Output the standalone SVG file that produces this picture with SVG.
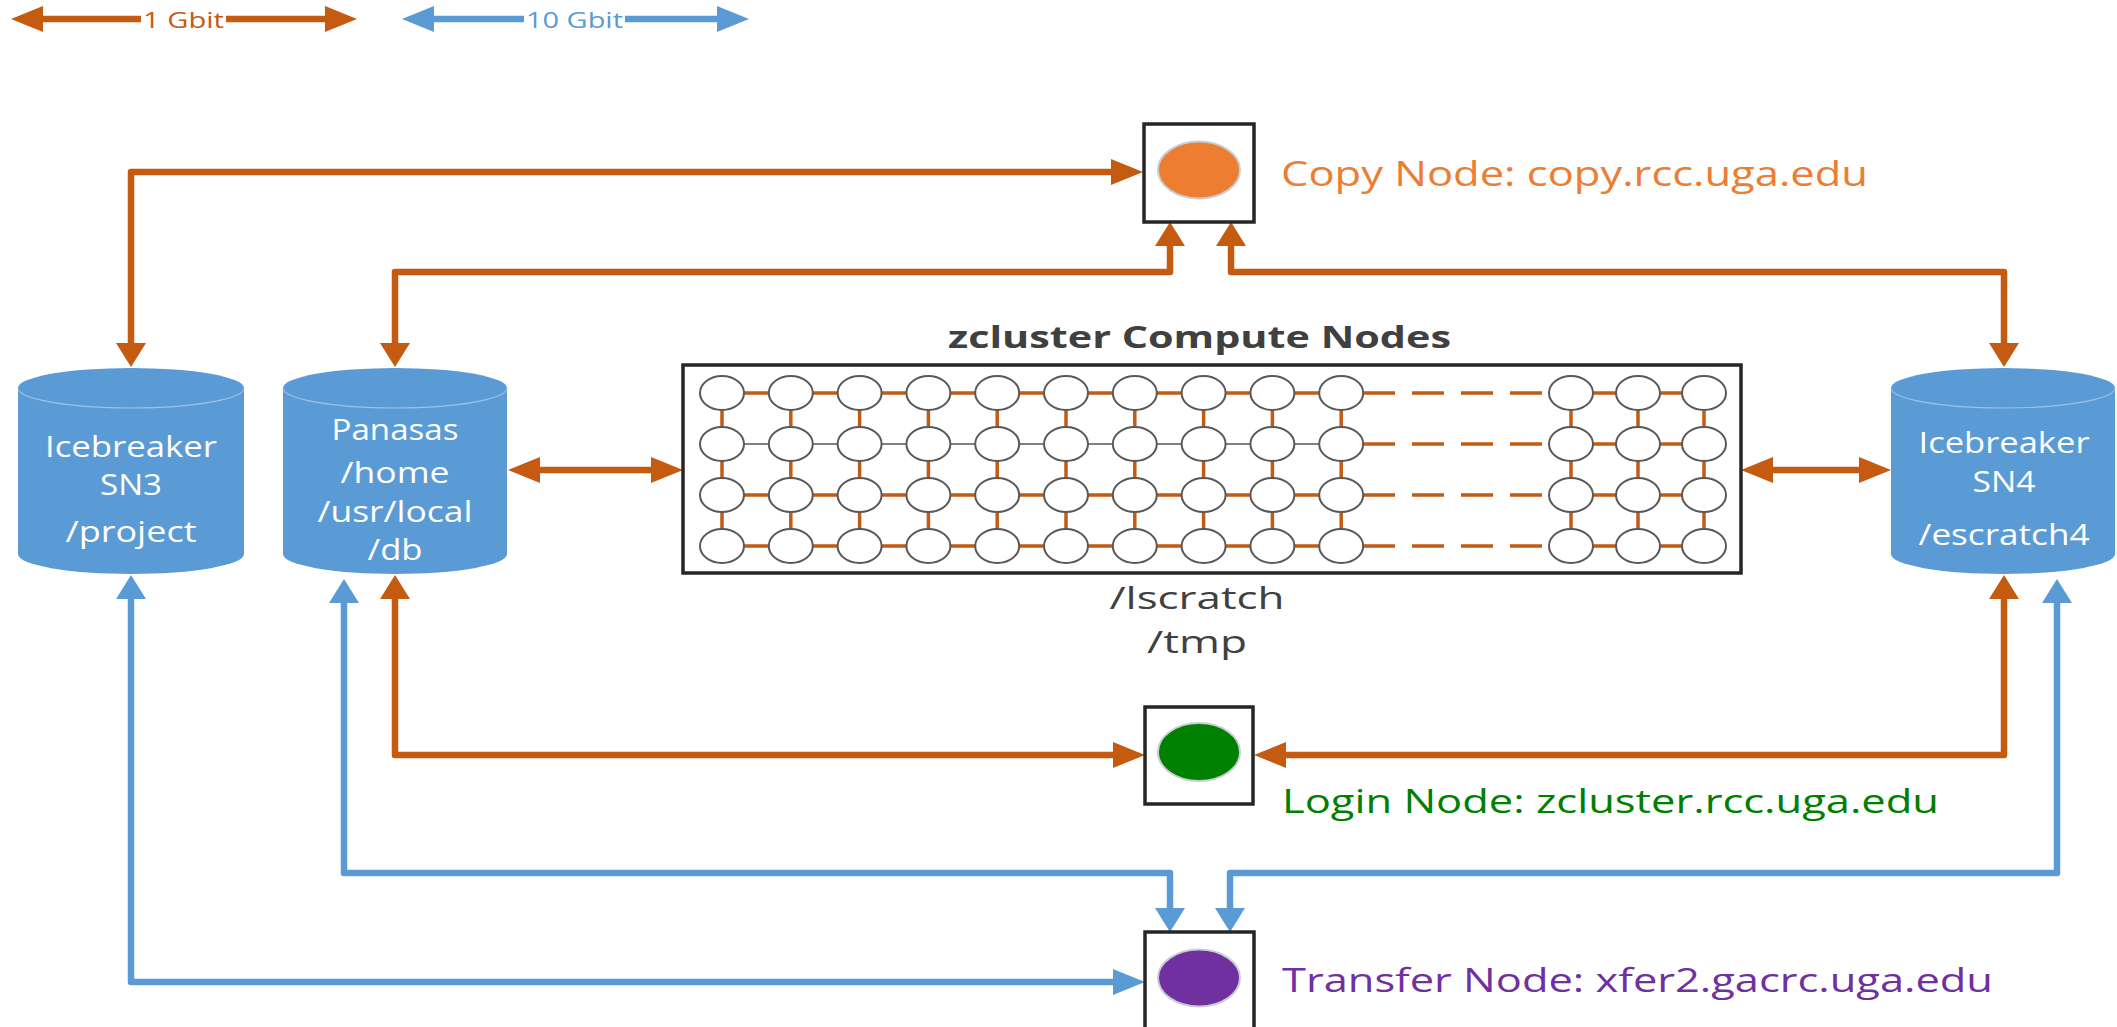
<svg xmlns="http://www.w3.org/2000/svg" xmlns:xlink="http://www.w3.org/1999/xlink" width="2117" height="1027" viewBox="0 0 2117 1027">
<style>
  text { font-family: "Open Sans", "Liberation Sans", sans-serif; }
  .cyl { fill: #5B9BD5; }
  .cyltop { fill: none; stroke: #9DC1E6; stroke-width: 1.2; }
  .cyltxt { fill: #FFFFFF; font-size: 30px; text-anchor: middle; }
  .box { fill: #FFFFFF; stroke: #262626; stroke-width: 3.5; }
  .o { fill: none; stroke: #C55A11; stroke-width: 6.5; stroke-linejoin: round; }
  .b { fill: none; stroke: #5B9BD5; stroke-width: 6.5; stroke-linejoin: round; }
  .mo { stroke: #C55A11; stroke-width: 3.5; fill: none; }
  .mg { stroke: #7F7F7F; stroke-width: 2; fill: none; }
  .node { fill: #FFFFFF; stroke: #595959; stroke-width: 2; }
  .dark { fill: #404040; }
</style>
<defs>
  <marker id="mho" markerUnits="userSpaceOnUse" markerWidth="32" markerHeight="26" refX="0" refY="13" orient="auto-start-reverse" overflow="visible"><path d="M0,0 L32,13 L0,26 z" fill="#C55A11"/></marker>
  <marker id="mvo" markerUnits="userSpaceOnUse" markerWidth="24" markerHeight="30" refX="0" refY="15" orient="auto-start-reverse" overflow="visible"><path d="M0,0 L24,15 L0,30 z" fill="#C55A11"/></marker>
  <marker id="mhb" markerUnits="userSpaceOnUse" markerWidth="32" markerHeight="26" refX="0" refY="13" orient="auto-start-reverse" overflow="visible"><path d="M0,0 L32,13 L0,26 z" fill="#5B9BD5"/></marker>
  <marker id="mvb" markerUnits="userSpaceOnUse" markerWidth="24" markerHeight="30" refX="0" refY="15" orient="auto-start-reverse" overflow="visible"><path d="M0,0 L24,15 L0,30 z" fill="#5B9BD5"/></marker>
  <ellipse id="c" cx="0" cy="0" rx="22" ry="17" class="node"/>
</defs>
<rect width="2117" height="1027" fill="#FFFFFF"/>

<g id="legend">
  <path class="o" d="M141,19 H43" marker-end="url(#mho)"/>
  <path class="o" d="M226,19 H325" marker-end="url(#mho)"/>
  <text x="143" y="28" font-size="22" fill="#C55A11" textLength="81" lengthAdjust="spacingAndGlyphs">1 Gbit</text>
  <path class="b" d="M524,19 H434" marker-end="url(#mhb)"/>
  <path class="b" d="M625,19 H717" marker-end="url(#mhb)"/>
  <text x="526" y="28" font-size="22" fill="#5B9BD5" textLength="97" lengthAdjust="spacingAndGlyphs">10 Gbit</text>
</g>

<g id="connectors">
  <path class="o" d="M131,343 V172 H1111" marker-start="url(#mvo)" marker-end="url(#mho)"/>
  <path class="o" d="M395,343 V272 H1170 V246" marker-start="url(#mvo)" marker-end="url(#mvo)"/>
  <path class="o" d="M2004,343 V272 H1231 V246" marker-start="url(#mvo)" marker-end="url(#mvo)"/>
  <path class="o" d="M540,470 H651" marker-start="url(#mho)" marker-end="url(#mho)"/>
  <path class="o" d="M1773,470 H1859" marker-start="url(#mho)" marker-end="url(#mho)"/>
  <path class="o" d="M395,599 V755 H1113" marker-start="url(#mvo)" marker-end="url(#mho)"/>
  <path class="o" d="M2004,599 V755 H1286" marker-start="url(#mvo)" marker-end="url(#mho)"/>
  <path class="b" d="M131,599 V982 H1113" marker-start="url(#mvb)" marker-end="url(#mhb)"/>
  <path class="b" d="M344,603 V873 H1170 V908" marker-start="url(#mvb)" marker-end="url(#mvb)"/>
  <path class="b" d="M2057,603 V873 H1230 V908" marker-start="url(#mvb)" marker-end="url(#mvb)"/>
</g>

<g id="sn3">
  <path class="cyl" d="M18,388 A113,20 0 0 1 244,388 V554 A113,20 0 0 1 18,554 Z"/>
  <path class="cyltop" d="M18,388 A113,20 0 0 0 244,388"/>
  <text class="cyltxt" x="131" y="457" textLength="172" lengthAdjust="spacingAndGlyphs">Icebreaker</text>
  <text class="cyltxt" x="131" y="495" textLength="62" lengthAdjust="spacingAndGlyphs">SN3</text>
  <text class="cyltxt" x="131" y="542" textLength="131" lengthAdjust="spacingAndGlyphs">/project</text>
</g>

<g id="panasas">
  <path class="cyl" d="M283,388 A112,20 0 0 1 507,388 V554 A112,20 0 0 1 283,554 Z"/>
  <path class="cyltop" d="M283,388 A112,20 0 0 0 507,388"/>
  <text class="cyltxt" x="395" y="440" textLength="127" lengthAdjust="spacingAndGlyphs">Panasas</text>
  <text class="cyltxt" x="395" y="483" textLength="109" lengthAdjust="spacingAndGlyphs">/home</text>
  <text class="cyltxt" x="395" y="522" textLength="155" lengthAdjust="spacingAndGlyphs">/usr/local</text>
  <text class="cyltxt" x="395" y="560" textLength="55" lengthAdjust="spacingAndGlyphs">/db</text>
</g>

<g id="sn4">
  <path class="cyl" d="M1891,388 A112,20 0 0 1 2115,388 V554 A112,20 0 0 1 1891,554 Z"/>
  <path class="cyltop" d="M1891,388 A112,20 0 0 0 2115,388"/>
  <text class="cyltxt" x="2004" y="453" textLength="171" lengthAdjust="spacingAndGlyphs">Icebreaker</text>
  <text class="cyltxt" x="2004" y="492" textLength="63" lengthAdjust="spacingAndGlyphs">SN4</text>
  <text class="cyltxt" x="2004" y="545" textLength="171" lengthAdjust="spacingAndGlyphs">/escratch4</text>
</g>

<g id="compute">
  <text class="dark" x="948" y="348" font-size="30" font-weight="bold" textLength="503" lengthAdjust="spacingAndGlyphs">zcluster Compute Nodes</text>
  <rect class="box" x="683" y="365" width="1058" height="208"/>
  <g id="mesh-links">
    <path class="mo" d="M722,393 H1342 M722,495 H1342 M722,546 H1342"/>
    <path class="mg" d="M722,444 H1342"/>
    <path class="mo" d="M1571,393 H1704 M1571,444 H1704 M1571,495 H1704 M1571,546 H1704"/>
    <path class="mo" stroke-dasharray="32 17" d="M1363,393 H1549 M1363,444 H1549 M1363,495 H1549 M1363,546 H1549"/>
    <path class="mo" d="M722,393 V546 M790.8,393 V546 M859.6,393 V546 M928.4,393 V546 M997.2,393 V546 M1066,393 V546 M1134.8,393 V546 M1203.6,393 V546 M1272.4,393 V546 M1341.2,393 V546 M1571,393 V546 M1638,393 V546 M1704,393 V546"/>
  </g>
  <g id="mesh-nodes">
    <use xlink:href="#c" x="722" y="393"/><use xlink:href="#c" x="790.8" y="393"/><use xlink:href="#c" x="859.6" y="393"/><use xlink:href="#c" x="928.4" y="393"/><use xlink:href="#c" x="997.2" y="393"/><use xlink:href="#c" x="1066" y="393"/><use xlink:href="#c" x="1134.8" y="393"/><use xlink:href="#c" x="1203.6" y="393"/><use xlink:href="#c" x="1272.4" y="393"/><use xlink:href="#c" x="1341.2" y="393"/><use xlink:href="#c" x="1571" y="393"/><use xlink:href="#c" x="1638" y="393"/><use xlink:href="#c" x="1704" y="393"/>
    <use xlink:href="#c" x="722" y="444"/><use xlink:href="#c" x="790.8" y="444"/><use xlink:href="#c" x="859.6" y="444"/><use xlink:href="#c" x="928.4" y="444"/><use xlink:href="#c" x="997.2" y="444"/><use xlink:href="#c" x="1066" y="444"/><use xlink:href="#c" x="1134.8" y="444"/><use xlink:href="#c" x="1203.6" y="444"/><use xlink:href="#c" x="1272.4" y="444"/><use xlink:href="#c" x="1341.2" y="444"/><use xlink:href="#c" x="1571" y="444"/><use xlink:href="#c" x="1638" y="444"/><use xlink:href="#c" x="1704" y="444"/>
    <use xlink:href="#c" x="722" y="495"/><use xlink:href="#c" x="790.8" y="495"/><use xlink:href="#c" x="859.6" y="495"/><use xlink:href="#c" x="928.4" y="495"/><use xlink:href="#c" x="997.2" y="495"/><use xlink:href="#c" x="1066" y="495"/><use xlink:href="#c" x="1134.8" y="495"/><use xlink:href="#c" x="1203.6" y="495"/><use xlink:href="#c" x="1272.4" y="495"/><use xlink:href="#c" x="1341.2" y="495"/><use xlink:href="#c" x="1571" y="495"/><use xlink:href="#c" x="1638" y="495"/><use xlink:href="#c" x="1704" y="495"/>
    <use xlink:href="#c" x="722" y="546"/><use xlink:href="#c" x="790.8" y="546"/><use xlink:href="#c" x="859.6" y="546"/><use xlink:href="#c" x="928.4" y="546"/><use xlink:href="#c" x="997.2" y="546"/><use xlink:href="#c" x="1066" y="546"/><use xlink:href="#c" x="1134.8" y="546"/><use xlink:href="#c" x="1203.6" y="546"/><use xlink:href="#c" x="1272.4" y="546"/><use xlink:href="#c" x="1341.2" y="546"/><use xlink:href="#c" x="1571" y="546"/><use xlink:href="#c" x="1638" y="546"/><use xlink:href="#c" x="1704" y="546"/>
  </g>
  <text class="dark" x="1197" y="609" font-size="31" text-anchor="middle" textLength="175" lengthAdjust="spacingAndGlyphs">/lscratch</text>
  <text class="dark" x="1197" y="653" font-size="31" text-anchor="middle" textLength="100" lengthAdjust="spacingAndGlyphs">/tmp</text>
</g>

<g id="copy-node">
  <rect class="box" x="1144" y="124" width="110" height="98"/>
  <ellipse cx="1199" cy="170" rx="41" ry="28.5" fill="#ED7D31" stroke="#C8CDD2" stroke-width="2"/>
  <text x="1281" y="186" font-size="35" fill="#ED7D31" textLength="587" lengthAdjust="spacingAndGlyphs">Copy Node: copy.rcc.uga.edu</text>
</g>

<g id="login-node">
  <rect class="box" x="1145" y="707" width="108" height="97"/>
  <ellipse cx="1199" cy="752" rx="41" ry="29" fill="#008000" stroke="#C8CDD2" stroke-width="2"/>
  <text x="1282" y="813" font-size="33" fill="#008000" textLength="657" lengthAdjust="spacingAndGlyphs">Login Node: zcluster.rcc.uga.edu</text>
</g>

<g id="transfer-node">
  <rect class="box" x="1145" y="932" width="109" height="110"/>
  <ellipse cx="1199" cy="978" rx="41" ry="28.5" fill="#7030A0" stroke="#C8CDD2" stroke-width="2"/>
  <text x="1282" y="992" font-size="33" fill="#7030A0" textLength="711" lengthAdjust="spacingAndGlyphs">Transfer Node: xfer2.gacrc.uga.edu</text>
</g>
</svg>
